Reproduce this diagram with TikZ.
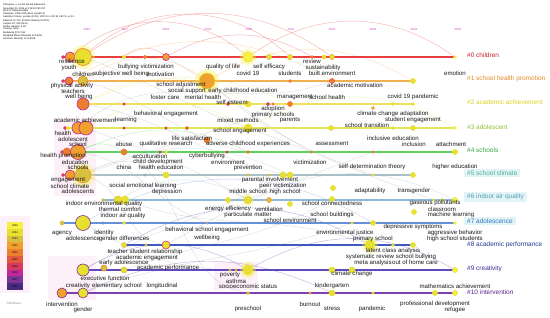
\documentclass[tikz,border=0pt]{standalone}
\usepackage{fontspec}
\setmainfont{Liberation Sans}
\usetikzlibrary{backgrounds}
% year colours (2016 .. 2025)
\definecolor{y16}{HTML}{4A2A80}
\definecolor{y17}{HTML}{7A3596}
\definecolor{y18}{HTML}{C0289C}
\definecolor{y19}{HTML}{D63A60}
\definecolor{y20}{HTML}{E25A3E}
\definecolor{y21}{HTML}{EC7E30}
\definecolor{y22}{HTML}{F0A02C}
\definecolor{y23}{HTML}{D8C040}
\definecolor{y24}{HTML}{E8E030}
\definecolor{y25}{HTML}{F6F040}
% cluster line colours
\definecolor{r0}{HTML}{E8403F}
\definecolor{r1}{HTML}{F0B050}
\definecolor{r2}{HTML}{F0E060}
\definecolor{r3}{HTML}{E0E858}
\definecolor{r4}{HTML}{60D060}
\definecolor{r5}{HTML}{A8C0C8}
\definecolor{r6}{HTML}{90B8D8}
\definecolor{r7}{HTML}{6890D8}
\definecolor{r8}{HTML}{4058C0}
\definecolor{r9}{HTML}{6048C0}
\definecolor{r10}{HTML}{8040B0}
% cluster label colours
\definecolor{c0}{HTML}{C8202C}
\definecolor{c1}{HTML}{E08A20}
\definecolor{c2}{HTML}{D8D020}
\definecolor{c3}{HTML}{90C030}
\definecolor{c4}{HTML}{30A838}
\definecolor{c5}{HTML}{50B090}
\definecolor{c6}{HTML}{50A0B0}
\definecolor{c7}{HTML}{3878C0}
\definecolor{c8}{HTML}{203890}
\definecolor{c9}{HTML}{3A2A98}
\definecolor{c10}{HTML}{5A2090}
\definecolor{cbox}{HTML}{E2F4F8}
\definecolor{pinkbg}{HTML}{FDF0F8}
\definecolor{yearmag}{HTML}{D040C0}
\tikzset{
  kw/.style={circle, inner sep=0pt, line width=0.6pt},
  lbl/.style={font=\fontsize{6.1}{6.5}\selectfont, text=black!90, inner sep=0pt},
  clab/.style={font=\fontsize{6.5}{7}\selectfont, anchor=west, inner xsep=3pt, inner ysep=1.5pt},
  rowline/.style={line width=1.1pt},
  linkarc/.style={line width=0.45pt, opacity=0.4},
  crossarc/.style={line width=0.35pt, draw=gray!70, opacity=0.45},
  yearlab/.style={font=\fontsize{3}{3}\selectfont, text=yearmag, inner sep=0pt},
  legcell/.style={minimum width=16pt, minimum height=6.8pt, inner sep=0pt, font=\fontsize{2.6}{2.6}\selectfont},
}

\begin{document}
\begin{tikzpicture}[x=1pt, y=-1pt]
  \useasboundingbox (0,0) rectangle (550,317);

  % header
  \node[anchor=north west, align=left, inner sep=0pt, font=\fontsize{2.4}{2.2}\selectfont] (info) at (3,4) {%
    CiteSpace, v. 6.3.R1 (64-bit) Advanced\\
    December 20, 2024 at 3:12:45 PM CST\\
    WoS: D:/citespace/data\\
    Timespan: 2016-2025 (Slice Length=1)\\
    Selection Criteria: g-index (k=25), LRF=3.0, L/N=10, LBY=5, e=1.0\\
    Network: N=712, E=1843 (Density=0.0073)\\
    Largest CC: 650 (91\%)\\
    Nodes Labeled: 1.0\%\\
    Pruning: None\\
    Modularity Q=0.7512\\
    Weighted Mean Silhouette S=0.9021\\
    Harmonic Mean(Q, S)=0.8198};

  % year axis
  \foreach \yr/\x in {2016/87, 2017/125, 2018/166, 2019/208, 2020/249, 2021/291, 2022/332, 2023/373, 2024/414, 2025/458}
    \node[yearlab] (yr\yr) at (\x,29) {\yr};

  % #0 children
  \foreach \x/\y/\d/\f/\c in {63/57/3/y19/y19, 70/57/10/y22/y18, 83/57/17/y24/y21, 124/57/3.5/y25/y24, 145/57/3.5/y21/y21, 166/57/7/y22/y18, 248/57/10/y25/y24, 269/57/5/y24/y23, 290/57/5/y24/y23, 312/57/3/y21/y21, 324/57/4/y24/y24, 332/57/5/y24/y22, 455/57/3/y25/y25}
    \node[kw, minimum size=\d pt, fill=\f, draw=\c] (k0-\x) at (\x,\y) {};
  % #1 school health promotion
  \foreach \x/\y/\d/\f/\c in {63/81/3/y19/y19, 69/81/8/y21/y18, 83/81/10/y23/y21, 207/81/16/y22/y24, 290/81/3/y21/y21, 332/81/5/y21/y20, 413/81/5/y24/y24}
    \node[kw, minimum size=\d pt, fill=\f, draw=\c] (k1-\x) at (\x,\y) {};
  % #2 academic achievement
  \foreach \x/\y/\d/\f/\c in {83/104/12/y21/y18, 124/104/2.5/y19/y19, 228/104/3/y19/y19, 248/104/6/y24/y24, 268/104/3/y18/y18, 273/104/2.5/y21/y21, 290/104/5/y21/y21, 373/108/3/y22/y22, 393/104/3/y24/y24, 413/104/3/y24/y24}
    \node[kw, minimum size=\d pt, fill=\f, draw=\c] (k2-\x) at (\x,\y) {};
  % #3 adolescent
  \foreach \x/\y/\d/\f/\c in {65/128/3/y19/y19, 68/128/3/y24/y24, 78/128/12/y22/y18, 86/128/14/y22/y18, 124/128/2.5/y19/y19, 166/128/2.5/y19/y19, 187/128/3/y20/y20, 248/128/8/y24/y24, 331/128/5/y24/y24, 393/128/3/y24/y24, 413/128/5/y24/y24, 455/128/3/y25/y25}
    \node[kw, minimum size=\d pt, fill=\f, draw=\c] (k3-\x) at (\x,\y) {};
  % #4 schools
  \foreach \x/\y/\d/\f/\c in {62/152/3/y19/y19, 67/152/8/y21/y20, 78/152/15/y22/y18, 124/152/6/y21/y21, 160/152/2.5/y19/y19, 166/152/3/y24/y24, 207/140/6/y21/y21, 227/152/2.5/y19/y19, 248/152/3/y21/y21, 311/152/2.5/y21/y21, 373/152/2.5/y21/y21, 455/152/5/y24/y24}
    \node[kw, minimum size=\d pt, fill=\f, draw=\c] (k4-\x) at (\x,\y) {};
  % #5 school climate
  \foreach \x/\y/\d/\f/\c in {63/175/3/y19/y19, 70/175/10/y22/y18, 83/175/16/y23/y22, 145/175/2.5/black!35/black!35, 166/175/6/y24/y24, 248/175/2.5/y23/y23, 269/175/2.5/y23/y23, 283/175/6/y24/y24, 290/175/6/y24/y24, 373/175/2.5/y24/y24, 413/175/5/y24/y24}
    \node[kw, minimum size=\d pt, fill=\f, draw=\c] (k5-\x) at (\x,\y) {};
  % #6 indoor air quality
  \foreach \x/\y/\d/\f/\c in {103/200/3/y23/y23, 118/200/8/y24/y23, 125/200/8/y24/y24, 228/200/5/y24/y24, 248/200/7/y24/y23, 269/200/5/y23/y22, 290/204/5/y24/y24, 332/199/5/y24/y24, 333/188/5/y24/y24, 414/212/5/y24/y24, 434/200/2.5/y24/y24, 442/200/3/y24/y24, 455/200/5/y25/y24}
    \node[kw, minimum size=\d pt, fill=\f, draw=\c] (k6-\x) at (\x,\y) {};
  % #7 adolescence
  \foreach \x/\y/\d/\f/\c in {62/223/4/y23/y23, 83/223/15/y24/y17, 103/223/2.5/r7/r7, 124/223/3/y24/y24, 207/223/2.5/black!35/black!35, 352/223/2.5/y24/y24, 373/223/5/y24/y24, 455/223/3/y25/y25}
    \node[kw, minimum size=\d pt, fill=\f, draw=\c] (k7-\x) at (\x,\y) {};
  % #8 academic performance
  \foreach \x/\y/\d/\f/\c in {124/245/5/y24/y23, 146/245/2.5/y23/y23, 166/245/8/y24/y19, 370/245/10/y24/y24, 393/245/3/y24/y24, 413/245/5/y24/y24}
    \node[kw, minimum size=\d pt, fill=\f, draw=\c] (k8-\x) at (\x,\y) {};
  % #9 creativity
  \foreach \x/\y/\d/\f/\c in {83/270/12/y24/y17, 104/268/6/y23/y21, 124/270/6/y24/y23, 230/270/2.5/y23/y23, 236/270/2.5/y22/y22, 248/270/10/y24/y24, 332/270/6/y24/y24, 352/270/6/y24/y24, 455/270/5/y25/y24}
    \node[kw, minimum size=\d pt, fill=\f, draw=\c] (k9-\x) at (\x,\y) {};
  % #10 intervention
  \foreach \x/\y/\d/\f/\c in {62/293/10/y22/y17, 83/293/10/y24/y17, 248/293/3/y23/y23, 310/293/2.5/y22/y22, 332/293/6/y24/y24, 373/293/2.5/y24/y24, 435/293/5/y24/y24, 455/293/5/y25/y24}
    \node[kw, minimum size=\d pt, fill=\f, draw=\c] (k10-\x) at (\x,\y) {};

  % keyword labels
  \foreach \x/\y/\t [count=\i] in {
    72/61.5/resilience, 69/68/youth, 83/74/children, 121/74/subjective well being, 160.5/74/motivation,
    146/67/bullying victimization, 223/67/quality of life, 269/67/self efficacy, 248/73/covid 19,
    290/73/students, 312/61.5/review, 323/67.5/sustainability, 332/73.5/built environment, 455/73/emotion,
    72/86/physical activity, 73/91/teachers, 79/97/well being, 181/85/school adjustment,
    187/91/social support, 165/97/foster care, 203/97/mental health, 243/91/early childhood education,
    232/102/self esteem, 295/97/management, 327/97/school health, 355/85/academic motivation,
    413/97/covid 19 pandemic,
    166/114/behavioral engagement, 273/109/adoption, 273/114.5/primary schools, 238/120/mixed methods,
    290/120/parents, 393/114/climate change adaptation, 413/120/student engagement, 367/125/school transition,
    85/120/academic achievement, 126/120/learning, 63/133/health, 73/139/adolescent, 78/144/school,
    240/131/school engagement, 192/138/life satisfaction, 393/138/inclusive education, 414/144/inclusion,
    451/144/attachment,
    124/144/abuse, 166/144/qualitative research, 248/144/adverse childhood experiences, 332/144/assessment,
    63/156/health promotion, 75/162/education, 78/167/schools, 150/156/acculturation,
    158/162/child development, 161/167.5/health education, 207/156/cyberbullying, 228/162/environment,
    248/167.5/prevention, 310/162/victimization, 124/167/china,
    68/180/engagement, 70/186/school climate, 78/191.5/adolescents, 372/167/self determination theory,
    455/167/higher education, 143/186/social emotional learning, 167/191.5/depression,
    270/180/parental involvement, 283/186/peer victimization, 248/191.5/middle school, 285/191.5/high school,
    370/191/adaptability, 414/191/transgender,
    104/204/indoor environmental quality, 120/209.5/thermal comfort, 123/215.5/indoor air quality,
    332/203/school connectedness, 435/203/gaseous pollutants, 442/209/classroom, 451/215/machine learning,
    228/209/energy efficiency, 269/209/ventilation, 248/215/particulate matter, 332/215/school buildings,
    290/220/school environment,
    62/233/agency, 104/233/identity, 83/238.5/adolescence, 124/238.5/gender differences,
    207/230/behavioral school engagement, 207/238/wellbeing, 345/233/environmental justice,
    373/238.5/primary school, 413/227/depressive symptoms, 455/233/aggressive behavior,
    455/238.5/high school students,
    145/252/teacher student relationship, 147/257.5/academic engagement, 124/262.5/early adolescence,
    393/251/latent class analysis, 370/257/systematic review, 416/257/school bullying,
    373/262.5/meta analysis, 415/262.5/out of home care,
    105/278/executive function, 168/267.5/academic performance, 230/275/poverty, 236/281/asthma,
    248/286.5/socioeconomic status, 352/274/climate change, 332/286/kindergarten, 78/286/creativity,
    117/286/elementary school, 162/286/longitudinal, 455/286/mathematics achievement,
    62/304/intervention, 83/309.5/gender, 248/309/preschool, 310/304/burnout, 332/309/stress,
    372/309/pandemic, 435/304/professional development, 455/309.5/refugee}
    \node[lbl] (lab\i) at (\x,\y) {\t};

  % cluster labels
  \foreach \n/\y/\t/\bg in {0/55/children/none, 1/79/school health promotion/none,
    2/102/academic achievement/none, 3/127/adolescent/none, 4/150/schools/none,
    5/173/school climate/cbox, 6/197/indoor air quality/cbox, 7/221/adolescence/cbox,
    8/245/academic performance/none, 9/269/creativity/none, 10/292/intervention/none}
    \node[clab, text=c\n, fill=\bg] (cl\n) at (464,\y) {\#\n\ \t};

  % legend
  \foreach \yr [count=\i] in {25,24,...,16}
    \node[legcell, fill=y\yr] (leg\yr) at (15,218.6+\i*6.8) {20\yr};
  \node[font=\fontsize{3.2}{3.5}\selectfont\itshape, text=black!45, inner sep=0pt] (logo) at (14,304) {CiteSpace};

  \begin{scope}[on background layer]
    % shaded areas
    \fill[pinkbg] (0,216) rectangle (30,293);
    \fill[pinkbg] (54,118) rectangle (96,196);
    \fill[pinkbg] (48,256) rectangle (96,300);
    \fill[pinkbg] (214,262) rectangle (258,290);
    % links between clusters
    \draw[crossarc] (k0-83) to[out=-20,in=160] (k3-248);
    \draw[crossarc] (k1-83) to[out=-15,in=170] (k4-248);
    \draw[crossarc] (k3-86) to[out=-20,in=150] (k6-248);
    \draw[crossarc] (k4-78) to[out=-10,in=160] (k7-207);
    \draw[crossarc] (k5-83) to[out=-20,in=170] (k8-166);
    \draw[crossarc] (k7-83) to[out=-30,in=180] (k9-248);
    \draw[crossarc] (k2-83) to[out=-10,in=170] (k5-290);
    \draw[crossarc] (k5-83) to[out=20,in=200] (k2-290);
    \draw[crossarc] (k6-125) to[out=-20,in=160] (k8-370);
    \draw[crossarc] (k9-124) to[out=20,in=210] (k6-332);
    \draw[crossarc] (k8-166) to[out=30,in=200] (k4-373);
    \draw[crossarc] (k10-83) to[out=20,in=200] (k7-352);
    \draw[crossarc] (k3-248) to[out=-20,in=160] (k6-434);
    \draw[crossarc] (k1-207) to[out=-40,in=160] (k5-373);
    \draw[crossarc] (k4-124) to[out=-30,in=170] (k10-248);
    \draw[crossarc] (k0-166) to[out=-30,in=150] (k4-311);
    \draw[crossarc] (k3-78) to[out=40,in=200] (k1-332);
    \draw[crossarc] (k9-83) to[out=30,in=210] (k5-283);
    % links inside clusters
    \draw[linkarc, r0] (k0-83) to[bend left=42] (k0-290);
    \draw[linkarc, r0] (k0-70) to[bend left=40] (k0-248);
    \draw[linkarc, r0] (k0-83) to[bend left=35] (k0-332);
    \draw[linkarc, r0] (k0-248) to[bend left=35] (k0-455);
    \draw[linkarc, r0] (k0-166) to[bend left=30] (k0-312);
    \draw[linkarc, r0] (k0-124) to[bend left=40] (k0-166);
    \draw[linkarc, r1] (k1-83) to[bend left=35] (k1-207);
    \draw[linkarc, r1] (k1-69) to[bend left=30] (k1-332);
    \draw[linkarc, r1] (k1-207) to[bend left=30] (k1-413);
    \draw[linkarc, r2] (k2-83) to[bend left=30] (k2-248);
    \draw[linkarc, r2] (k2-83) to[bend left=25] (k2-290);
    \draw[linkarc, r3] (k3-86) to[bend left=30] (k3-248);
    \draw[linkarc, r3] (k3-248) to[bend left=30] (k3-455);
    \draw[linkarc, r4] (k4-78) to[bend left=30] (k4-124);
    \draw[linkarc, r4] (k4-78) to[bend left=25] (k4-248);
    \draw[linkarc, r5] (k5-83) to[bend left=25] (k5-290);
    \draw[linkarc, r5] (k5-83) to[bend left=30] (k5-166);
    \draw[linkarc, r6] (k6-118) to[bend left=30] (k6-248);
    \draw[linkarc, r6] (k6-248) to[bend left=25] (k6-455);
    \draw[linkarc, r7] (k7-83) to[bend left=30] (k7-373);
    \draw[linkarc, r8] (k8-124) to[bend left=30] (k8-370);
    \draw[linkarc, r9] (k9-83) to[bend left=30] (k9-248);
    \draw[linkarc, r9] (k9-248) to[bend left=30] (k9-455);
    \draw[linkarc, r10] (k10-83) to[bend left=25] (k10-332);
    % timelines
    \draw[rowline, r0] (k0-63.center) -- (k0-455.center);
    \draw[rowline, r1] (k1-63.center) -- (k1-413.center);
    \draw[rowline, r2] (k2-83.center) -- (k2-413.center);
    \draw[rowline, r3] (k3-65.center) -- (k3-455.center);
    \draw[rowline, r4] (k4-62.center) -- (k4-455.center);
    \draw[rowline, r5] (k5-63.center) -- (k5-413.center);
    \draw[rowline, r6] (k6-103.center) -- (k6-455.center);
    \draw[rowline, r7] (k7-62.center) -- (k7-455.center);
    \draw[rowline, r8] (k8-124.center) -- (k8-413.center);
    \draw[rowline, r9] (k9-83.center) -- (k9-455.center);
    \draw[rowline, r10] (k10-62.center) -- (k10-455.center);
    % glow of the large nodes
    \fill[y25, opacity=.35] (k0-83) circle (12);
    \fill[y25, opacity=.35] (k0-248) circle (8);
    \fill[y25, opacity=.35] (k1-207) circle (12);
    \fill[y25, opacity=.35] (k5-83) circle (12);
    \fill[y25, opacity=.35] (k6-248) circle (6);
    \fill[y25, opacity=.35] (k8-370) circle (8);
    \fill[y25, opacity=.35] (k9-248) circle (8);
  \end{scope}
\end{tikzpicture}
\end{document}
